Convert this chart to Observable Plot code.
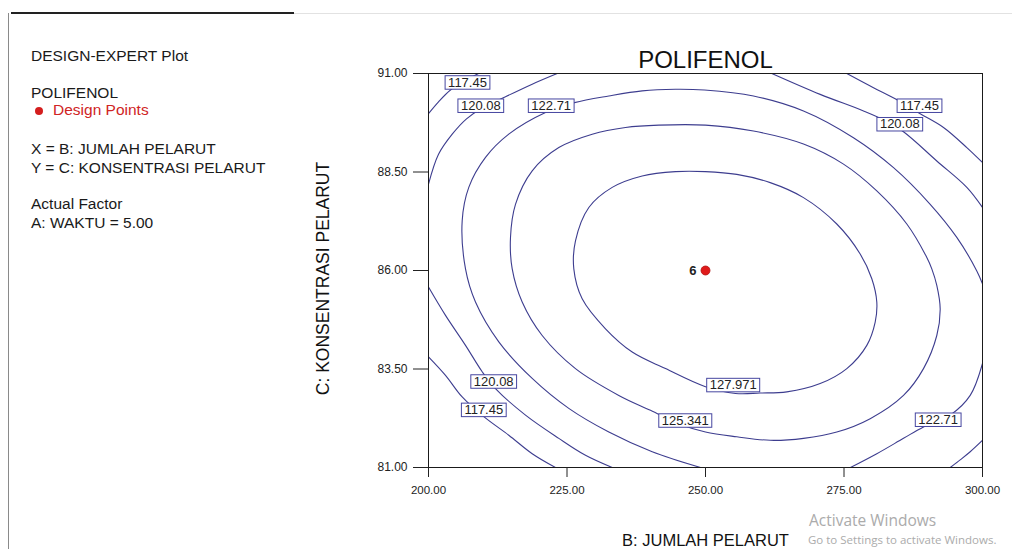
<!DOCTYPE html>
<html>
<head>
<meta charset="utf-8">
<script src="https://cdn.jsdelivr.net/npm/d3@7"></script>
<script src="https://cdn.jsdelivr.net/npm/@observablehq/plot@0.6"></script>
<style>
  html, body { margin: 0; padding: 0; background: #fff; overflow: hidden; }
  #wrap { position: relative; width: 1012px; height: 549px; font-family: "Liberation Sans", Arial, sans-serif; }
  #wrap svg { position: absolute; left: 0; top: 0; }
  .info { position: absolute; left: 31px; font-size: 15.5px; line-height: 15px; color: #1a1a1a; white-space: nowrap; }
  .red { color: #d02424; }
  .bullet { position: absolute; width: 8px; height: 8px; border-radius: 50%; background: #d41e1e; }
  .rule { position: absolute; }
  .wm { position: absolute; color: #ababab; white-space: nowrap; font-family: "Open Sans", "Noto Sans", sans-serif; }
</style>
</head>
<body>
<div id="wrap"></div>
<script>
// ---------- data ----------
const xTicks = [200, 225, 250, 275, 300];
const yTicks = [81, 83.5, 86, 88.5, 91];

// contour pieces, [B: JUMLAH PELARUT, C: KONSENTRASI PELARUT]
const c117_topLeft = [[200,89.98],[201.81,90.28],[203.97,90.58],[206.50,90.81],[209.03,91]];
const c117_topRight = [[275.51,91],[280.32,90.64],[284.24,90.36],[288.75,89.98],[292.96,89.63],[297.17,89.12],[300,88.74]];
const c117_bottomLeft = [[200,83.81],[203.07,83.34],[206.08,82.79],[209.98,82.29],[214.49,81.82],[218.72,81.35],[222.92,81]];
const c120_topLeft = [[200,88.19],[201.81,88.95],[204.28,89.46],[206.86,89.85],[209.39,90.10],[213.59,90.39],[218.72,90.73],[223.23,91]];
const c120_topRight = [[261.97,91],[270.70,90.47],[278.52,90.05],[282.49,89.80],[285.74,89.52],[291.75,88.78],[297.17,88.11],[300,87.60]];
const c120_bottomLeft = [[200,85.58],[203.07,84.86],[206.68,84.10],[209.69,83.43],[212.09,83.00],[217.51,82.33],[223.52,81.74],[228.34,81.31],[233.16,81]];
const c120_bottomRight = [[294.17,81],[296.03,81.20],[297.78,81.40],[300,81.69]];
const c122_main = [[249.10,81],[240.38,81.40],[232.55,81.90],[225.32,82.50],[218.72,83.26],[212.69,84.19],[208.48,85.20],[206.68,86.04],[206.08,87.26],[207.27,88.11],[210.29,88.87],[214.49,89.46],[221.12,90.01],[226.35,90.26],[232.55,90.43],[238.57,90.56],[244.58,90.60],[249.82,90.58],[258.66,90.43],[267.69,90.05],[276.71,89.37],[283.94,88.61],[290.56,87.68],[295.36,86.84],[298.97,85.99],[300,85.66]];
const c122_bottomRight = [[300,83.64],[297.78,82.83],[294.17,82.33],[289.35,82.03],[285.74,81.74],[280.92,81.35],[276.17,81]];
const c125_ring = [[250,89.69],[258.66,89.54],[267.69,89.21],[274.91,88.70],[280.92,88.02],[286.34,87.18],[289.95,86.33],[290.85,86.04],[291.75,85.62],[292.36,85.03],[291.75,84.35],[289.35,83.51],[285.74,82.83],[279.73,82.24],[273.70,81.90],[267.69,81.74],[261.68,81.69],[255.65,81.78],[250,81.90],[245.49,82.09],[240.07,82.45],[234.35,82.83],[226.53,83.51],[220.52,84.35],[216.91,85.20],[215.11,86.04],[214.80,86.84],[215.70,87.68],[218.72,88.53],[223.52,89.12],[229.55,89.46],[235.56,89.63],[241.57,89.69]];
const c128_ring = [[250,88.51],[255.65,88.44],[261.68,88.23],[267.69,87.85],[273.70,87.18],[277.92,86.42],[280.02,85.79],[280.92,85.20],[280.63,84.69],[279.12,84.10],[275.51,83.51],[270.70,83.13],[264.68,82.92],[259.87,82.89],[255.42,82.88],[250,83.05],[242.78,83.51],[236.77,83.93],[231.95,84.52],[227.74,85.28],[226.23,86.04],[226.53,86.75],[228.94,87.60],[233.16,88.11],[238.57,88.40],[244.58,88.51]];

// contour labels
const labelText = ["117.45","120.08","122.71","117.45","120.08","120.08","117.45","125.341","127.971","122.71"];
const labelX = [207.04,209.44,222.15,288.63,285.07,211.77,209.98,246.35,255.0,292.0];
const labelY = [90.77,90.18,90.18,90.18,89.71,83.18,82.46,82.19,83.09,82.21];

// design points
const designX = [250];
const designY = [86];
const designCount = ["6"];

// background shading (darkness 0..1), 9 columns x 8 rows, top row first
const shadeCols = 9, shadeRows = 8;
const shadeGrid = [
  1.0, 0.35, 0, 0, 0, 0, 0, 0.35, 1.0,
  0.45, 0.1, 0, 0, 0, 0, 0, 0.15, 0.55,
  0, 0, 0, 0, 0, 0, 0, 0, 0.12,
  0, 0, 0, 0, 0, 0, 0, 0, 0,
  0, 0, 0, 0, 0, 0, 0, 0, 0,
  0.12, 0, 0, 0, 0, 0, 0, 0, 0,
  0.55, 0.15, 0, 0, 0, 0, 0, 0, 0.12,
  1.0, 0.5, 0.1, 0, 0, 0, 0, 0.2, 0.6
];

// ---------- build tables ----------
const openPieces = {c117_topLeft, c117_topRight, c117_bottomLeft, c120_topLeft, c120_topRight, c120_bottomLeft, c120_bottomRight, c122_main, c122_bottomRight};
const ringPieces = {c125_ring, c128_ring};
const toRows = (obj) => Object.entries(obj).flatMap(([id, pts]) => pts.map(([x, y]) => ({id, x, y})));
const openRows = toRows(openPieces);
const ringRows = toRows(ringPieces);
const labels = labelText.map((t, i) => ({t, x: labelX[i], y: labelY[i]}));
const design = designX.map((x, i) => ({x, y: designY[i], n: designCount[i]}));

const contourColor = "#3d3d8f";
const fmt = d3.format(".2f");

const svg = Plot.plot({
  width: 1012,
  height: 549,
  marginLeft: 428,
  marginRight: 30,
  marginTop: 73,
  marginBottom: 82,
  x: {domain: [200, 300]},
  y: {domain: [81, 91]},
  color: {type: "linear", domain: [0, 1], range: ["#ffffff", "#dcdcdc"]},
  style: {fontFamily: '"Liberation Sans", Arial, sans-serif', background: "transparent", color: "#222"},
  marks: [
    Plot.raster(shadeGrid, {width: shadeCols, height: shadeRows, fill: d => d}),
    Plot.line(openRows, {x: "x", y: "y", z: "id", stroke: contourColor, strokeWidth: 1.1, curve: "catmull-rom", clip: true}),
    Plot.line(ringRows, {x: "x", y: "y", z: "id", stroke: contourColor, strokeWidth: 1.1, curve: "catmull-rom-closed", clip: true}),
    Plot.frame({stroke: "#1a1a1a", strokeWidth: 1}),
    Plot.text(labels, {x: "x", y: "y", text: "t", fontSize: 13, fill: "#222", ariaDescription: "contour-label"}),
    Plot.dot(design, {x: "x", y: "y", r: 4.5, fill: "#e01a1a", stroke: "#b01010", strokeWidth: 0.8}),
    Plot.text(design, {x: "x", y: "y", text: "n", dx: -9, textAnchor: "end", fontWeight: "bold", fontSize: 13, fill: "#222"}),
    Plot.axisX(xTicks, {tickSize: 10, tickPadding: 8, tickFormat: fmt, fontSize: 11.5, label: null, stroke: "#222"}),
    Plot.axisY(yTicks, {tickSize: 15, tickPadding: 6, tickFormat: fmt, fontSize: 12, label: null, stroke: "#222"}),
    Plot.text(["POLIFENOL"], {frameAnchor: "top", text: d => d, dy: -6, lineAnchor: "bottom", fontSize: 24, fill: "#111"}),
    Plot.text(["B: JUMLAH PELARUT"], {frameAnchor: "bottom", text: d => d, dy: 73, lineAnchor: "middle", fontSize: 16.5, fill: "#111"}),
    Plot.text(["C: KONSENTRASI PELARUT"], {frameAnchor: "left", text: d => d, dx: -105, dy: 8, rotate: -90, textAnchor: "middle", lineAnchor: "middle", fontSize: 17.5, fill: "#111"})
  ]
});

const wrap = document.getElementById("wrap");
wrap.appendChild(svg);

// boxes behind the contour labels
svg.querySelectorAll('g[aria-description="contour-label"] text').forEach(t => {
  const b = t.getBBox();
  const r = document.createElementNS("http://www.w3.org/2000/svg", "rect");
  r.setAttribute("x", b.x - 3);
  r.setAttribute("y", b.y + 1);
  r.setAttribute("width", b.width + 6);
  r.setAttribute("height", b.height - 1.5);
  r.setAttribute("fill", "#fff");
  r.setAttribute("stroke", "#4646a0");
  r.setAttribute("stroke-width", "1");
  const tr = t.getAttribute("transform");
  if (tr) r.setAttribute("transform", tr);
  t.parentNode.insertBefore(r, t);
});

// side panel, rules and overlay text
const html = `
  <div class="rule" style="left:11px;top:12px;width:283px;height:2px;background:#222"></div>
  <div class="rule" style="left:294px;top:13px;width:718px;height:1px;background:#e2e2e2"></div>
  <div class="rule" style="left:8px;top:13px;width:1px;height:536px;background:#8a8a8a"></div>
  <div class="info" style="top:48px">DESIGN-EXPERT Plot</div>
  <div class="info" style="top:85px">POLIFENOL</div>
  <div class="bullet" style="left:35px;top:107px"></div>
  <div class="info red" style="top:102px;left:53px">Design Points</div>
  <div class="info" style="top:141px">X = B: JUMLAH PELARUT</div>
  <div class="info" style="top:160px">Y = C: KONSENTRASI PELARUT</div>
  <div class="info" style="top:195.5px">Actual Factor</div>
  <div class="info" style="top:215px">A: WAKTU = 5.00</div>
  <div class="wm" style="left:809px;top:509px;font-size:15.5px">Activate Windows</div>
  <div class="wm" style="left:808px;top:532px;font-size:11.5px">Go to Settings to activate Windows.</div>
`;
wrap.insertAdjacentHTML("beforeend", html);
</script>
</body>
</html>
